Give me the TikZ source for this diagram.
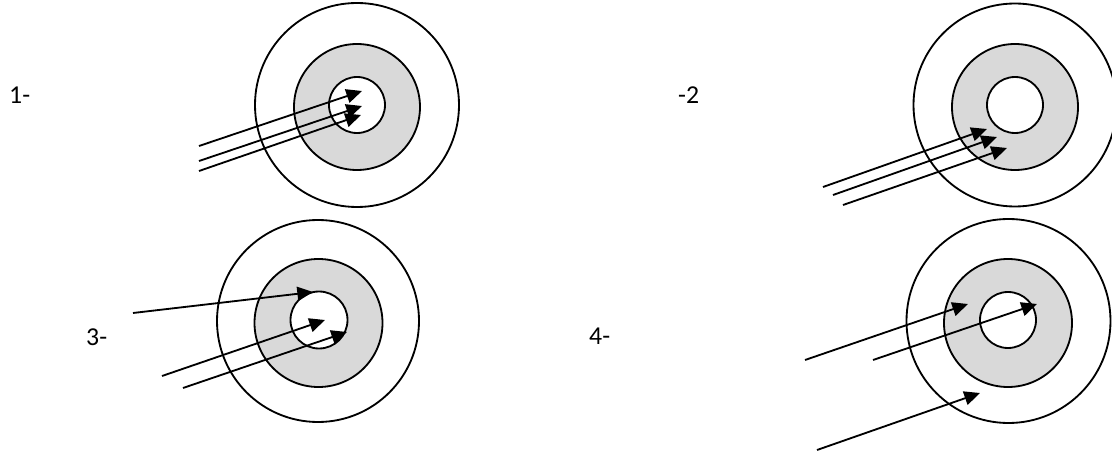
\documentclass[tikz,border=0pt]{standalone}
\usepackage{fontspec}
\setmainfont{Carlito}
\usetikzlibrary{arrows.meta}
\definecolor{ringgray}{HTML}{D9D9D9}
\tikzset{
  ring/.style={draw=black, line width=0.055cm},
  ray/.style={draw=black, line width=0.055cm, -{Triangle[length=0.47cm,width=0.42cm]}},
  lbl/.style={font=\fontsize{22}{26}\selectfont, inner sep=0pt, anchor=base west}
}
\begin{document}
\begin{tikzpicture}[x=0.03cm,y=0.03cm]
\useasboundingbox (0,0) rectangle (1112,-455);
\begin{scope}
\clip (0,0) rectangle (1112,-455);
% target 1
\draw[ring] (357,-105) circle[radius=102];
\filldraw[ring, fill=ringgray] (357,-107) circle[radius=63];
\filldraw[ring, fill=white] (357,-105) circle[radius=28];
% target 2
\draw[ring] (1015,-105) circle[radius=101.5];
\filldraw[ring, fill=ringgray] (1015,-107) circle[radius=63];
\filldraw[ring, fill=white] (1015,-105) circle[radius=28];
% target 3
\draw[ring] (318,-321) circle[radius=101];
\filldraw[ring, fill=ringgray] (318.5,-323) circle[radius=64];
\filldraw[ring, fill=white] (319,-320) circle[radius=28.5];
% target 4
\draw[ring] (1008.5,-321) circle[radius=102];
\filldraw[ring, fill=ringgray] (1008,-323) circle[radius=64];
\filldraw[ring, fill=white] (1008,-320) circle[radius=28];
\end{scope}

% arrow end points
\coordinate (a1s) at (199,-146); \coordinate (a1e) at (362,-91);
\coordinate (a2s) at (199,-161); \coordinate (a2e) at (362,-106);
\coordinate (a3s) at (199,-171); \coordinate (a3e) at (361,-115);

\coordinate (b1s) at (823,-187); \coordinate (b1e) at (987,-129);
\coordinate (b2s) at (833,-195); \coordinate (b2e) at (997,-137);
\coordinate (b3s) at (843,-205); \coordinate (b3e) at (1007,-148);

\coordinate (c1s) at (133,-313); \coordinate (c1e) at (313,-292);
\coordinate (c2s) at (162,-376); \coordinate (c2e) at (325,-320);
\coordinate (c3s) at (183,-388); \coordinate (c3e) at (347,-332);

\coordinate (d1s) at (805,-360); \coordinate (d1e) at (968,-304);
\coordinate (d2s) at (873,-360); \coordinate (d2e) at (1037,-304);
\coordinate (d3s) at (817,-450); \coordinate (d3e) at (980,-393);

\foreach \p in {a1,a2,a3,b1,b2,b3,c1,c2,c3,d1,d2,d3}
  \draw[ray] (\p s) -- (\p e);

% labels
\node[lbl] (l1) at (9,-104) {1-};
\node[lbl] (l2) at (678,-103.5) {-2};
\node[lbl] (l3) at (86,-346) {3-};
\node[lbl] (l4) at (589,-345) {4-};
\end{tikzpicture}
\end{document}
